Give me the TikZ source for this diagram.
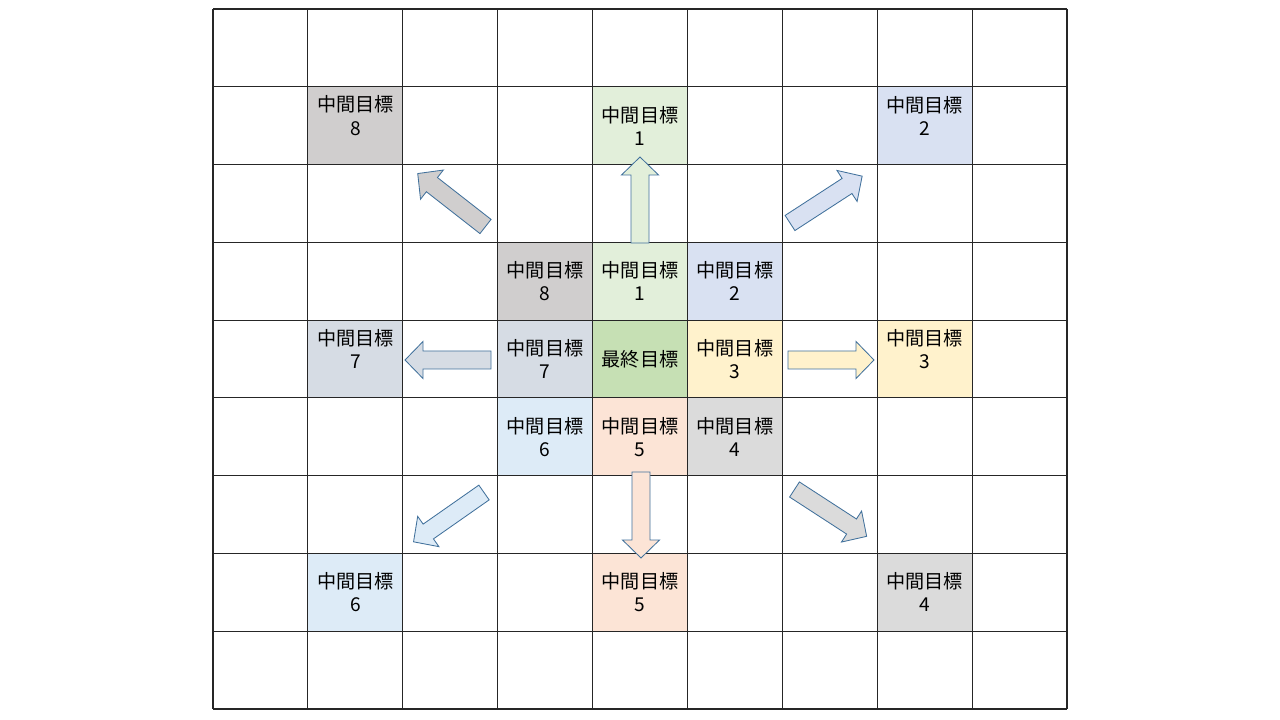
\documentclass[tikz,border=0pt]{standalone}
\usepackage{fontspec}
\setmainfont{Noto Sans CJK JP}
\usetikzlibrary{positioning}
\def\cw{94.89}
\def\ch{77.78}
\definecolor{goalA}{HTML}{E2EFDA}
\definecolor{goalB}{HTML}{D9E1F2}
\definecolor{goalC}{HTML}{FFF2CC}
\definecolor{goalD}{HTML}{DBDBDB}
\definecolor{goalE}{HTML}{FCE4D6}
\definecolor{goalF}{HTML}{DDEBF7}
\definecolor{goalG}{HTML}{D6DCE4}
\definecolor{goalH}{HTML}{D0CECE}
\definecolor{finalGoal}{HTML}{C6E0B4}
\definecolor{arrowEdge}{HTML}{41719C}
\tikzstyle{goal}=[align=center,inner sep=0pt,font=\fontsize{13.6}{16.5}\selectfont]
\tikzstyle{raised}=[yshift=0.25cm]
\tikzstyle{gridline}=[line width=0.8pt,black!85]
\tikzstyle{blockarrow}=[line width=0.6pt,draw=arrowEdge,line join=miter]
\newcommand{\newGoal}[4]{\node[goal,#3](#1) at #4 {#2};}
\newcommand{\newArrow}[3]{\draw[blockarrow,fill=#3,shift={#1},rotate=#2]
  (0,-9) -- (68,-9) -- (68,-18.5) -- (86,0) -- (68,18.5) -- (68,9) -- (0,9) -- cycle;}

\begin{document}
\begin{tikzpicture}[x=0.025cm,y=-0.025cm]
    \useasboundingbox[fill=white] (0,0) rectangle (1280,720);
    % coloured cells
    \foreach \r/\c/\col in {3/3/goalH,3/4/goalA,3/5/goalB,4/3/goalG,4/4/finalGoal,
        4/5/goalC,5/3/goalF,5/4/goalE,5/5/goalD,1/1/goalH,1/4/goalA,1/7/goalB,
        4/1/goalG,4/7/goalC,7/1/goalF,7/4/goalE,7/7/goalD}
      \fill[\col] (213+\c*\cw,9+\r*\ch) rectangle ++(\cw,\ch);
    \foreach \i in {0,...,9}{
      \draw[gridline] (213+\i*\cw,9) -- (213+\i*\cw,709);
      \draw[gridline] (213,9+\i*\ch) -- (1067,9+\i*\ch);
    }
    \newGoal{fin}{最終目標}{}{(213+4.5*\cw,9+4.5*\ch)}
    \newGoal{g1}{中間目標\\1}{}{(213+4.5*\cw,9+3.5*\ch)}
    \newGoal{g2}{中間目標\\2}{}{(213+5.5*\cw,9+3.5*\ch)}
    \newGoal{g3}{中間目標\\3}{}{(213+5.5*\cw,9+4.5*\ch)}
    \newGoal{g4}{中間目標\\4}{}{(213+5.5*\cw,9+5.5*\ch)}
    \newGoal{g5}{中間目標\\5}{}{(213+4.5*\cw,9+5.5*\ch)}
    \newGoal{g6}{中間目標\\6}{}{(213+3.5*\cw,9+5.5*\ch)}
    \newGoal{g7}{中間目標\\7}{}{(213+3.5*\cw,9+4.5*\ch)}
    \newGoal{g8}{中間目標\\8}{}{(213+3.5*\cw,9+3.5*\ch)}
    \newGoal{o1}{中間目標\\1}{}{(213+4.5*\cw,9+1.5*\ch)}
    \newGoal{o2}{中間目標\\2}{raised}{(213+7.5*\cw,9+1.5*\ch)}
    \newGoal{o3}{中間目標\\3}{raised}{(213+7.5*\cw,9+4.5*\ch)}
    \newGoal{o4}{中間目標\\4}{}{(213+7.5*\cw,9+7.5*\ch)}
    \newGoal{o5}{中間目標\\5}{}{(213+4.5*\cw,9+7.5*\ch)}
    \newGoal{o6}{中間目標\\6}{}{(213+1.5*\cw,9+7.5*\ch)}
    \newGoal{o7}{中間目標\\7}{raised}{(213+1.5*\cw,9+4.5*\ch)}
    \newGoal{o8}{中間目標\\8}{raised}{(213+1.5*\cw,9+1.5*\ch)}
    \newArrow{(640,243)}{90}{goalA}
    \newArrow{(790,223)}{33}{goalB}
    \newArrow{(788,360)}{0}{goalC}
    \newArrow{(794.5,489.5)}{-33}{goalD}
    \newArrow{(641,472)}{-90}{goalE}
    \newArrow{(484,492.5)}{-145}{goalF}
    \newArrow{(491,360)}{180}{goalG}
    \newArrow{(485.5,226.5)}{142}{goalH}
\end{tikzpicture}
\end{document}
